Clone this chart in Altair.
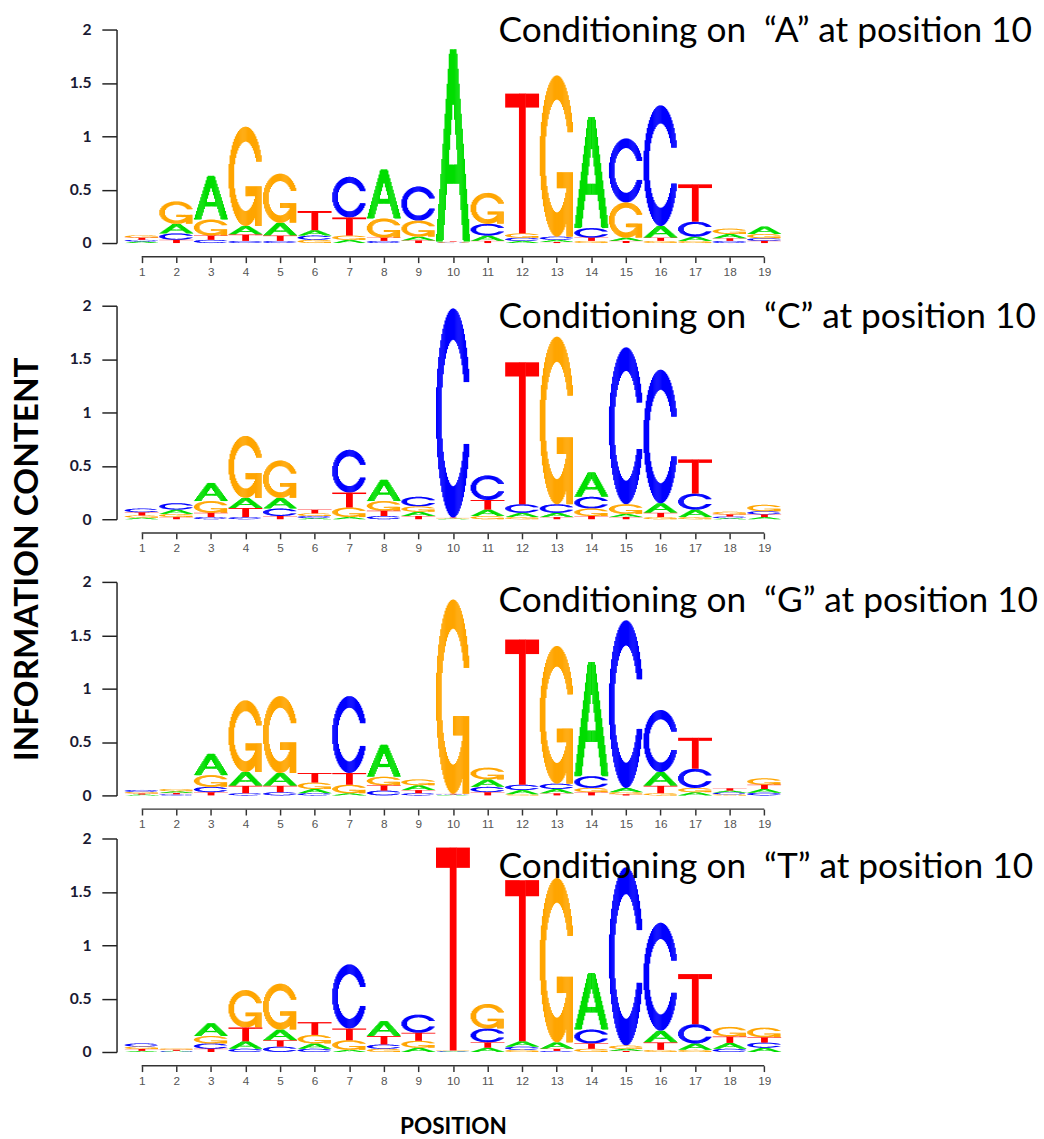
import numpy as np
import pandas as pd
import altair as alt

# ---------------------------------------------------------------- data
POSITIONS = list(range(1, 20))
LETTERS = ["A", "C", "G", "T"]
LETTER_COLORS = ["#00DD00", "#0000FF", "#FFA500", "#FF0000"]

PANEL_TITLES = [
    "Conditioning on\u00a0 \u201cA\u201d at position 10",
    "Conditioning on\u00a0 \u201cC\u201d at position 10",
    "Conditioning on\u00a0 \u201cG\u201d at position 10",
    "Conditioning on\u00a0 \u201cT\u201d at position 10",
]

# information content (bits) per letter and position, one set per panel
A_GIVEN_A = [0.015, 0.09, 0.41, 0.08, 0.12, 0.05, 0.03, 0.46, 0.035, 1.80, 0.05, 0.02, 0.02, 1.04, 0.03, 0.11, 0.04, 0.04, 0.07]
C_GIVEN_A = [0.015, 0.06, 0.03, 0.02, 0.02, 0.04, 0.38, 0.02, 0.32, 0.005, 0.11, 0.03, 0.03, 0.09, 0.60, 1.13, 0.14, 0.02, 0.025]
G_GIVEN_A = [0.022, 0.21, 0.15, 0.93, 0.46, 0.03, 0.04, 0.18, 0.15, 0.005, 0.29, 0.04, 1.51, 0.02, 0.33, 0.02, 0.02, 0.05, 0.04]
T_GIVEN_A = [0.02, 0.03, 0.04, 0.06, 0.05, 0.18, 0.17, 0.03, 0.025, 0.005, 0.02, 1.31, 0.01, 0.03, 0.02, 0.03, 0.35, 0.025, 0.02]

A_GIVEN_C = [0.015, 0.04, 0.17, 0.095, 0.10, 0.01, 0.02, 0.20, 0.04, 0.005, 0.06, 0.04, 0.04, 0.23, 0.03, 0.09, 0.07, 0.01, 0.02]
C_GIVEN_C = [0.035, 0.06, 0.02, 0.02, 0.07, 0.02, 0.40, 0.03, 0.09, 1.96, 0.23, 0.08, 0.08, 0.11, 1.47, 1.25, 0.15, 0.015, 0.03]
G_GIVEN_C = [0.02, 0.03, 0.11, 0.58, 0.35, 0.025, 0.09, 0.09, 0.05, 0.005, 0.03, 0.02, 1.57, 0.07, 0.09, 0.02, 0.02, 0.025, 0.06]
T_GIVEN_C = [0.03, 0.02, 0.04, 0.085, 0.03, 0.035, 0.14, 0.05, 0.03, 0.005, 0.09, 1.33, 0.02, 0.03, 0.02, 0.04, 0.32, 0.02, 0.025]

A_GIVEN_G = [0.008, 0.016, 0.20, 0.13, 0.12, 0.04, 0.02, 0.30, 0.045, 0.005, 0.07, 0.04, 0.04, 1.07, 0.04, 0.13, 0.03, 0.019, 0.035]
C_GIVEN_G = [0.018, 0.01, 0.05, 0.02, 0.03, 0.02, 0.72, 0.045, 0.02, 0.005, 0.05, 0.05, 0.05, 0.11, 1.57, 0.58, 0.18, 0.016, 0.025]
G_GIVEN_G = [0.015, 0.022, 0.11, 0.67, 0.72, 0.06, 0.08, 0.08, 0.055, 1.82, 0.11, 0.01, 1.29, 0.04, 0.02, 0.02, 0.04, 0.01, 0.06]
T_GIVEN_G = [0.01, 0.013, 0.03, 0.07, 0.06, 0.09, 0.11, 0.05, 0.03, 0.005, 0.03, 1.36, 0.02, 0.03, 0.01, 0.07, 0.29, 0.022, 0.04]

A_GIVEN_T = [0.01, 0.006, 0.12, 0.07, 0.10, 0.05, 0.02, 0.14, 0.04, 0.005, 0.04, 0.05, 0.06, 0.53, 0.02, 0.11, 0.06, 0.055, 0.04]
C_GIVEN_T = [0.03, 0.005, 0.05, 0.03, 0.05, 0.03, 0.60, 0.04, 0.17, 0.005, 0.13, 0.03, 0.01, 0.13, 1.67, 1.01, 0.18, 0.03, 0.048]
G_GIVEN_T = [0.022, 0.012, 0.07, 0.35, 0.43, 0.08, 0.09, 0.03, 0.065, 0.005, 0.23, 0.02, 1.54, 0.03, 0.03, 0.02, 0.02, 0.09, 0.09]
T_GIVEN_T = [0.018, 0.01, 0.03, 0.13, 0.06, 0.12, 0.11, 0.08, 0.075, 1.90, 0.05, 1.51, 0.02, 0.05, 0.01, 0.07, 0.47, 0.06, 0.05]

PANELS = [
    {"A": A_GIVEN_A, "C": C_GIVEN_A, "G": G_GIVEN_A, "T": T_GIVEN_A},
    {"A": A_GIVEN_C, "C": C_GIVEN_C, "G": G_GIVEN_C, "T": T_GIVEN_C},
    {"A": A_GIVEN_G, "C": C_GIVEN_G, "G": G_GIVEN_G, "T": T_GIVEN_G},
    {"A": A_GIVEN_T, "C": C_GIVEN_T, "G": G_GIVEN_T, "T": T_GIVEN_T},
]

Y_TICKS = [0, 0.5, 1, 1.5, 2]

# ---------------------------------------------------------------- layout
W, H = 671, 218          # plot area of one logo
LETTER_W = 0.98          # letter width in position units
FONT = "Lato"
TITLE_X = 382
TITLE_Y = [13, 23, 31, 40]
AXIS_GAP = 14            # x axis line below the zero line
SPACING = 64
# the third logo hands part of its slot to the fourth (shorter gap below it)
SHRINK = [0, 0, 20, 0]

# ---------------------------------------------------------------- glyphs
# Letter outlines in a unit box (seqLogo style), turned into vertical
# strips so that each letter can be stretched to its own height.
N_COLS = 32


def _arc(r, a0, a1, n=140):
    t = np.linspace(a0, a1, n)
    return np.column_stack([0.5 + r * np.cos(t), 0.5 + r * np.sin(t)])


def _c_ring():
    end_outer = 0.3
    dy = 0.5 * np.sin(end_outer)
    end_inner = np.arcsin(dy / 0.35)
    outer = _arc(0.5, end_outer, 2 * np.pi - end_outer)
    inner = _arc(0.35, 2 * np.pi - end_inner, end_inner)
    return np.vstack([outer, inner])


def _glyph_parts(letter):
    if letter == "A":
        outer = np.array([(0, 0), (0.4, 1), (0.6, 1), (1, 0), (0.8, 0),
                          (0.68, 0.3), (0.32, 0.3), (0.2, 0)], float)
        hole = np.array([(0.36, 0.4), (0.5, 0.75), (0.64, 0.4)], float)
        return [[outer, hole]]
    if letter == "T":
        return [[np.array([(0, 1), (1, 1), (1, 0.9), (0.6, 0.9), (0.6, 0),
                           (0.4, 0), (0.4, 0.9), (0, 0.9)], float)]]
    if letter == "C":
        return [[_c_ring()]]
    r1 = 0.5 + 0.5 * np.cos(0.3)
    bar = np.array([(r1, 0.4), (0.5, 0.4), (0.5, 0.3), (r1 - 0.2, 0.3),
                    (r1 - 0.2, 0), (r1, 0)], float)
    return [[_c_ring()], [bar]]


def _spans(rings, x):
    ys = []
    for ring in rings:
        p, q = ring, np.roll(ring, -1, axis=0)
        x1, y1, x2, y2 = p[:, 0], p[:, 1], q[:, 0], q[:, 1]
        hit = ((x1 <= x) & (x2 > x)) | ((x2 <= x) & (x1 > x))
        t = (x - x1[hit]) / (x2[hit] - x1[hit])
        ys.extend(y1[hit] + t * (y2[hit] - y1[hit]))
    ys.sort()
    return [(ys[i], ys[i + 1]) for i in range(0, len(ys) - 1, 2)]


def _union(intervals):
    out = []
    for a, b in sorted(intervals):
        if out and a <= out[-1][1]:
            out[-1] = (out[-1][0], max(out[-1][1], b))
        else:
            out.append((a, b))
    return out


def glyph_strips(letter):
    parts = _glyph_parts(letter)
    cols = []
    for k in range(N_COLS):
        xc = (k + 0.5) / N_COLS
        iv = []
        for rings in parts:
            iv.extend(_spans(rings, xc))
        cols.append(_union(iv))
    gx0, gx1, gy0, gy1 = [], [], [], []
    k = 0
    while k < N_COLS:
        j = k
        while j + 1 < N_COLS and len(cols[j + 1]) == len(cols[k]) and all(
                abs(a[0] - b[0]) < 1e-9 and abs(a[1] - b[1]) < 1e-9
                for a, b in zip(cols[j + 1], cols[k])):
            j += 1
        left = k / N_COLS
        right = min(1.0, (j + 1.4) / N_COLS)
        for a, b in cols[k]:
            gx0.append(round(left, 4))
            gx1.append(round(right, 4))
            gy0.append(round(a, 4))
            gy1.append(round(b, 4))
        k = j + 1
    return {"letter": letter, "gx0": gx0, "gx1": gx1, "gy0": gy0, "gy1": gy1}


GLYPHS = alt.InlineData(values=[glyph_strips(l) for l in LETTERS])

# ---------------------------------------------------------------- charts
x_scale = alt.Scale(domain=[POSITIONS[0] - 0.5, POSITIONS[-1] + 0.5], nice=False, zero=False)


def logo_panel(i, x_title=None):
    rows = [{"pos": p, "letter": l, "h": PANELS[i][l][j]}
            for l in LETTERS for j, p in enumerate(POSITIONS) if PANELS[i][l][j] > 0]
    df = pd.DataFrame(rows)
    view_h = H - SHRINK[i]

    y_scale = alt.Scale(domain=[Y_TICKS[0], Y_TICKS[-1]], nice=False, range=[H, 0])
    x_axis = alt.Axis(values=POSITIONS, offset=AXIS_GAP + SHRINK[i], domain=False, grid=False,
                      tickSize=6, tickWidth=1.5, tickColor="#333",
                      labelFont="Liberation Sans", labelFontSize=12, labelColor="#555",
                      labelPadding=4, labelAngle=0, labelFlush=False,
                      title=x_title, titleFont=FONT, titleFontSize=23,
                      titleFontWeight="bold", titleColor="black", titlePadding=30)
    y_axis = alt.Axis(values=Y_TICKS, format="~g", offset=8, grid=False,
                      domainColor="#222", domainWidth=1.5,
                      tickSize=15, tickWidth=1.5, tickColor="#222",
                      labelFont=FONT, labelFontSize=16, labelFontWeight="bold",
                      labelColor="#1a1a33", labelPadding=11, title=None)

    letters = (
        alt.Chart(df)
        .transform_window(cum="sum(h)", groupby=["pos"],
                          sort=[alt.SortField("h", order="ascending")],
                          frame=[None, 0], ignorePeers=True)
        .transform_calculate(base="datum.cum - datum.h")
        .transform_lookup(lookup="letter",
                          from_=alt.LookupData(data=GLYPHS, key="letter",
                                               fields=["gx0", "gx1", "gy0", "gy1"]))
        .transform_flatten(["gx0", "gx1", "gy0", "gy1"])
        .transform_calculate(
            x0=f"datum.pos - {LETTER_W / 2} + datum.gx0 * {LETTER_W}",
            x1=f"datum.pos - {LETTER_W / 2} + datum.gx1 * {LETTER_W}",
            y0="datum.base + datum.gy0 * datum.h",
            y1="datum.base + datum.gy1 * datum.h",
        )
        .mark_rect(strokeWidth=0)
        .encode(
            x=alt.X("x0:Q", scale=x_scale, axis=x_axis),
            x2="x1:Q",
            y=alt.Y("y0:Q", scale=y_scale, axis=y_axis),
            y2="y1:Q",
            color=alt.Color("letter:N", scale=alt.Scale(domain=LETTERS, range=LETTER_COLORS),
                            legend=None),
        )
    )

    # x axis line running from the first to the last position only
    axis_line = (
        alt.Chart(pd.DataFrame({"start": [POSITIONS[0]], "end": [POSITIONS[-1]]}))
        .mark_rule(color="#333", strokeWidth=1.5)
        .encode(x=alt.X("start:Q", scale=x_scale, axis=x_axis), x2="end:Q",
                y=alt.value(H + AXIS_GAP))
    )

    title = (
        alt.Chart(pd.DataFrame({"label": [PANEL_TITLES[i]]}))
        .mark_text(align="left", baseline="alphabetic", font=FONT, fontSize=36, color="black")
        .encode(text="label:N", x=alt.value(TITLE_X), y=alt.value(TITLE_Y[i]))
    )

    return alt.layer(letters, axis_line, title).properties(width=W, height=view_h)


chart = (
    alt.vconcat(logo_panel(0), logo_panel(1), logo_panel(2), logo_panel(3, "POSITION"),
                spacing=SPACING, bounds="flush")
    .properties(
        title=alt.TitleParams("INFORMATION CONTENT", orient="left", anchor="middle",
                              font=FONT, fontSize=34, fontWeight="bold", color="black",
                              offset=25, dx=17),
        padding={"left": 11, "top": 2, "right": 5, "bottom": 5},
    )
    .configure_view(stroke=None)
)

chart.save("out.html", embed_options={"renderer": "svg", "actions": False})
